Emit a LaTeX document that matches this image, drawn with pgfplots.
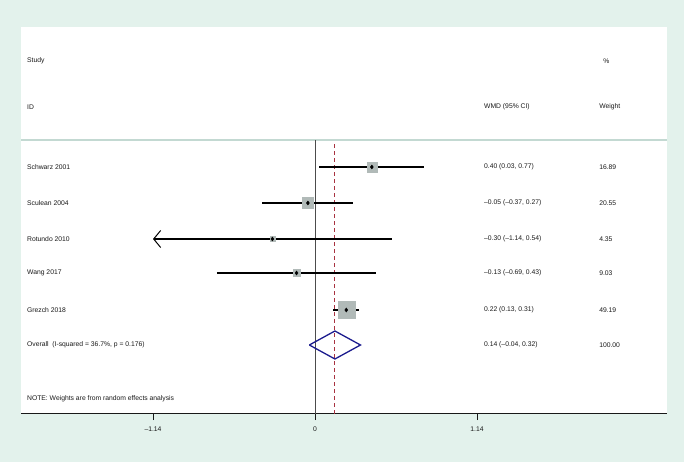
\documentclass[border=0pt]{standalone}
\usepackage{pgfplots}
\pgfplotsset{compat=1.18}
\usepackage{fontspec}
\setmainfont{Liberation Sans}
\usetikzlibrary{arrows.meta}
\definecolor{bggreen}{HTML}{E3F2EC}
\definecolor{sepcol}{HTML}{C3D9D2}
\definecolor{boxgray}{HTML}{B1BAB8}
\definecolor{refred}{HTML}{A83240}
\definecolor{navy}{HTML}{1C1C8E}
\definecolor{txt}{HTML}{1A1A1A}
\newcommand{\fs}{\fontsize{6.8}{8}\selectfont}
\begin{document}
\begin{tikzpicture}
\fill[bggreen] (0,0) rectangle (684bp,462bp);
\fill[white] (21bp,48bp) rectangle (667bp,435bp);
\begin{axis}[
  at={(21bp,48bp)}, anchor=south west,
  scale only axis, width=646bp, height=387bp,
  xmin=-2.069, xmax=2.477, ymin=0, ymax=387,
  axis x line*=bottom, axis y line=none,
  x axis line style={-, black!90, line width=1bp},
  xtick={-1.14,0,1.14}, xticklabels={--1.14,0,1.14},
  xtick pos=bottom, tick align=outside,
  major tick length=6bp,
  every tick/.style={black!90, line width=1bp},
  tick label style={font=\fs, text=txt},
  xticklabel style={yshift=-3bp},
  clip=false,
]
% separator and reference lines
\addplot[sepcol, line width=1.2bp] coordinates {(-2.069,274) (2.477,274)};
\addplot[black!70, line width=0.9bp] coordinates {(0,0) (0,274)};
\addplot[refred, line width=1.1bp, dash pattern=on 4bp off 3bp] coordinates {(0.14,0) (0.14,270)};
% weight boxes
\addplot[only marks, mark=square*, mark size=4.98bp, boxgray, mark options={draw=none}] coordinates {(0.40,247)};
\addplot[only marks, mark=square*, mark size=5.49bp, boxgray, mark options={draw=none}] coordinates {(-0.05,211)};
\addplot[only marks, mark=square*, mark size=2.53bp, boxgray, mark options={draw=none}] coordinates {(-0.30,175)};
\addplot[only marks, mark=square*, mark size=3.64bp, boxgray, mark options={draw=none}] coordinates {(-0.13,141)};
\addplot[only marks, mark=square*, mark size=8.49bp, boxgray, mark options={draw=none}] coordinates {(0.22,104)};
% confidence intervals
\addplot[black, line width=1.05bp] coordinates {(0.03,247) (0.77,247)};
\addplot[black, line width=1.05bp] coordinates {(-0.37,211) (0.27,211)};
\addplot[black, line width=1.05bp, -{Straight Barb[length=7bp, width=17bp, line width=1bp]}] coordinates {(0.54,175) (-1.14,175)};
\addplot[black, line width=1.05bp] coordinates {(-0.69,141) (0.43,141)};
\addplot[black, line width=1.5bp] coordinates {(0.13,104) (0.31,104)};
% point estimates
\addplot[only marks, mark=diamond*, mark size=2bp, black] coordinates {(0.40,247) (-0.05,211) (-0.30,175) (-0.13,141) (0.22,104)};
% overall diamond
\addplot[navy, line width=1.3bp] coordinates {(-0.04,69) (0.14,83) (0.32,69) (0.14,55) (-0.04,69)};
% text
\begin{scope}[every node/.style={anchor=west, font=\fs, text=txt, inner sep=0pt}]
\node at (axis cs:-2.027,353) {Study};
\node at (axis cs:-2.027,307) {ID};
\node at (axis cs:1.189,307) {WMD (95\% CI)};
\node at (axis cs:2.027,353) {\%};
\node at (axis cs:1.999,307) {Weight};
\node at (axis cs:-2.027,247) {Schwarz 2001};
\node at (axis cs:-2.027,211) {Sculean 2004};
\node at (axis cs:-2.027,175) {Rotundo 2010};
\node at (axis cs:-2.027,141) {Wang 2017};
\node at (axis cs:-2.027,104) {Grezch 2018};
\node at (axis cs:-2.027,69) {Overall\ \ (I-squared = 36.7\%, p = 0.176)};
\node at (axis cs:-2.027,15) {NOTE: Weights are from random effects analysis};
\node at (axis cs:1.189,247) {0.40 (0.03, 0.77)};
\node at (axis cs:1.189,211) {--0.05 (--0.37, 0.27)};
\node at (axis cs:1.189,175) {--0.30 (--1.14, 0.54)};
\node at (axis cs:1.189,141) {--0.13 (--0.69, 0.43)};
\node at (axis cs:1.189,104) {0.22 (0.13, 0.31)};
\node at (axis cs:1.189,69) {0.14 (--0.04, 0.32)};
\node at (axis cs:1.999,247) {16.89};
\node at (axis cs:1.999,211) {20.55};
\node at (axis cs:1.999,175) {4.35};
\node at (axis cs:1.999,141) {9.03};
\node at (axis cs:1.999,104) {49.19};
\node at (axis cs:1.999,69) {100.00};
\end{scope}
\end{axis}
\end{tikzpicture}
\end{document}
